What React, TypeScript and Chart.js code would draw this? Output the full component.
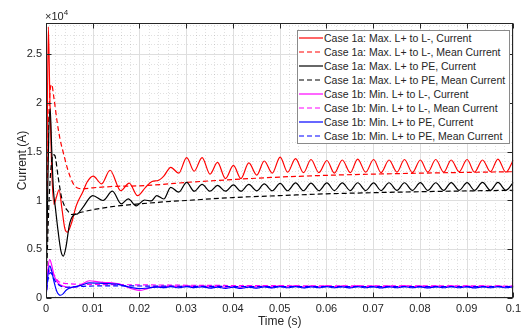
import React, { useEffect, useRef } from "react";
import { Chart, registerables } from "chart.js";

Chart.register(...registerables);

// ---------- data (time in s, current in A) ----------
const X_MIN = 0;
const X_MAX = 0.1;
const Y_MIN = 0;
const Y_MAX = 28200;
const X_TICKS = [0, 0.01, 0.02, 0.03, 0.04, 0.05, 0.06, 0.07, 0.08, 0.09, 0.1];
const X_TICK_LABELS = ["0", "0.01", "0.02", "0.03", "0.04", "0.05", "0.06", "0.07", "0.08", "0.09", "0.1"];
const Y_TICKS = [0, 5000, 10000, 15000, 20000, 25000];
const Y_TICK_LABELS = ["0", "0.5", "1", "1.5", "2", "2.5"];
const X_MINOR_STEP = 0.002;
const Y_MINOR_STEP = 1000;

// steady-state 300 Hz ripple extremes (shared time base)
const RIPPLE_T = [
  0.0267, 0.0284, 0.0301, 0.0317, 0.0334, 0.0351, 0.0367, 0.0384, 0.0401, 0.0417,
  0.0434, 0.0451, 0.0467, 0.0484, 0.0501, 0.0517, 0.0534, 0.0551, 0.0567, 0.0584,
  0.0601, 0.0617, 0.0634, 0.0651, 0.0667, 0.0684, 0.0701, 0.0717, 0.0734, 0.0751,
  0.0767, 0.0784, 0.0801, 0.0817, 0.0834, 0.0851, 0.0867, 0.0884, 0.0901, 0.0917,
  0.0934, 0.0951, 0.0967, 0.0984, 0.1,
];

// Case 1a: Max. L+ to L-, Current
const RED_T = [0, 0.0002, 0.0005, 0.0008, 0.0012, 0.0017, 0.0022, 0.0028, 0.0034, 0.004, 0.0046, 0.0054, 0.0065, 0.0079, 0.0088, 0.0101, 0.0119, 0.0137, 0.016, 0.0178, 0.0196, 0.0213, 0.0227, 0.024, 0.0252];
const RED_I = [0, 13000, 27800, 21000, 13500, 9600, 10300, 11100, 9200, 7200, 6750, 7600, 9500, 10900, 11900, 12500, 11700, 13100, 11000, 11770, 10500, 11350, 11950, 12050, 12500];
const RED_RIPPLE = [
  13400, 12800, 14400, 13000, 14400, 12700, 13900, 12250, 13600, 12250,
  13850, 12600, 14050, 12800, 14450, 12900, 14300, 12850, 14200, 12850,
  14100, 12800, 14150, 12850, 14250, 12900, 14200, 12850, 14150, 12900,
  14200, 12850, 14150, 12900, 14200, 12900, 14150, 12950, 14200, 12900,
  14150, 12950, 14250, 12900, 14150,
];

// Case 1a: Max. L+ to L-, Mean Current
const RED_MEAN_T = [0, 0.0002, 0.0005, 0.0008, 0.0012, 0.0017, 0.0024, 0.003, 0.0036, 0.0047, 0.0058, 0.0069, 0.008, 0.01, 0.015, 0.02, 0.025, 0.03, 0.04, 0.05, 0.06, 0.07, 0.08, 0.09, 0.1];
const RED_MEAN_I = [0, 9000, 17000, 20800, 21900, 20500, 18000, 16300, 15100, 13100, 11750, 11250, 11200, 11300, 11450, 11500, 11650, 11850, 12150, 12400, 12580, 12700, 12800, 12880, 12950];

// Case 1a: Max. L+ to PE, Current
const BLACK_T = [0, 0.0003, 0.0006, 0.0009, 0.0012, 0.0016, 0.002, 0.0026, 0.0032, 0.0037, 0.0043, 0.005, 0.0058, 0.0068, 0.0079, 0.01, 0.0122, 0.0142, 0.0161, 0.0176, 0.0193, 0.0211, 0.0225, 0.0237, 0.0252];
const BLACK_I = [0, 9000, 17000, 19400, 15500, 11000, 9300, 6800, 4800, 4300, 5300, 7500, 8450, 8650, 9300, 10500, 10000, 10950, 9650, 10170, 9450, 10050, 9950, 10500, 10150];
const BLACK_RIPPLE = [
  11350, 10850, 11850, 10950, 11650, 10950, 11550, 10950, 11600, 10950,
  11650, 10980, 11700, 11000, 11750, 11000, 11800, 11000, 11780, 11000,
  11800, 11020, 11800, 11020, 11820, 11020, 11800, 11020, 11820, 11030,
  11820, 11030, 11830, 11030, 11820, 11040, 11840, 11040, 11830, 11040,
  11850, 11040, 11850, 11050, 11850,
];

// Case 1a: Max. L+ to PE, Mean Current
const BLACK_MEAN_T = [0, 0.0003, 0.0007, 0.0011, 0.0015, 0.0019, 0.0026, 0.0033, 0.0039, 0.0047, 0.0054, 0.0062, 0.007, 0.01, 0.015, 0.02, 0.025, 0.03, 0.04, 0.05, 0.06, 0.07, 0.08, 0.09, 0.1];
const BLACK_MEAN_I = [0, 5000, 10500, 13500, 14700, 14600, 12400, 10400, 9500, 8900, 8560, 8600, 8720, 9050, 9420, 9650, 9850, 10000, 10300, 10500, 10680, 10800, 10900, 10980, 11050];

// Case 1b: Min. L+ to L-, Current
const MAGENTA_T = [0, 0.0002, 0.0005, 0.0008, 0.0012, 0.0017, 0.0023, 0.003, 0.0038, 0.0048, 0.006, 0.0075, 0.0093, 0.0112, 0.0128, 0.0142, 0.0157, 0.0172, 0.0187, 0.02, 0.0213, 0.0227, 0.024, 0.0252];
const MAGENTA_I = [0, 1500, 3300, 3950, 3400, 2400, 1700, 1350, 1200, 1100, 1100, 1350, 1770, 1650, 1580, 1550, 1450, 1150, 900, 780, 900, 1120, 1200, 1150];
const MAGENTA_RIPPLE = [
  1250, 1150, 1270, 1160, 1250, 1130, 1240, 1120, 1230, 1110,
  1240, 1130, 1250, 1140, 1260, 1150, 1260, 1140, 1250, 1150,
  1260, 1150, 1250, 1140, 1260, 1150, 1250, 1140, 1250, 1150,
  1260, 1150, 1250, 1140, 1250, 1150, 1260, 1150, 1250, 1140,
  1250, 1150, 1260, 1150, 1250,
];

// Case 1b: Min. L+ to L-, Mean Current
const MEAN_1B_T = [0, 0.0003, 0.0007, 0.001, 0.0014, 0.002, 0.0027, 0.0035, 0.0045, 0.006, 0.008, 0.01, 0.015, 0.02, 0.03, 0.04, 0.06, 0.08, 0.1];
const MAGENTA_MEAN_I = [0, 1800, 2700, 2900, 2600, 2100, 1700, 1550, 1480, 1430, 1400, 1390, 1370, 1350, 1310, 1280, 1250, 1240, 1230];

// Case 1b: Min. L+ to PE, Current
const BLUE_T = [0, 0.0002, 0.0005, 0.0008, 0.0012, 0.0017, 0.0023, 0.0031, 0.0037, 0.0043, 0.005, 0.006, 0.0075, 0.0093, 0.0112, 0.0128, 0.0142, 0.0157, 0.0172, 0.0187, 0.02, 0.0213, 0.0227, 0.024, 0.0252];
const BLUE_I = [0, 1200, 2700, 3300, 2800, 1700, 700, 280, 450, 800, 1000, 1150, 1300, 1560, 1520, 1480, 1450, 1380, 1200, 1030, 970, 1000, 1080, 1120, 1060];
const BLUE_RIPPLE = [
  1160, 1050, 1170, 1060, 1150, 1020, 1120, 990, 1110, 980,
  1120, 1010, 1140, 1040, 1160, 1050, 1160, 1040, 1150, 1050,
  1160, 1050, 1150, 1040, 1160, 1050, 1150, 1040, 1150, 1050,
  1160, 1050, 1150, 1040, 1150, 1050, 1160, 1050, 1150, 1040,
  1150, 1050, 1160, 1050, 1150,
];

// Case 1b: Min. L+ to PE, Mean Current
const BLUE_MEAN_I = [0, 1500, 2400, 2600, 2300, 1700, 1350, 1150, 1100, 1150, 1200, 1230, 1250, 1230, 1200, 1180, 1170, 1160, 1160];

const LABELS = [
  "Case 1a: Max. L+ to L-, Current",
  "Case 1a: Max. L+ to L-, Mean Current",
  "Case 1a: Max. L+ to PE, Current",
  "Case 1a: Max. L+ to PE, Mean Current",
  "Case 1b: Min. L+ to L-, Current",
  "Case 1b: Min. L+ to L-, Mean Current",
  "Case 1b: Min. L+ to PE, Current",
  "Case 1b: Min. L+ to PE, Mean Current",
];
const COLORS = ["#ff0000", "#ff0000", "#000000", "#000000", "#ff00ff", "#ff00ff", "#0000ff", "#0000ff"];
const DASHED = [false, true, false, true, false, true, false, true];

const zip = (t: number[], v: number[]) => {
  const n = Math.min(t.length, v.length);
  const out: { x: number; y: number }[] = [];
  for (let i = 0; i < n; i++) out.push({ x: t[i], y: v[i] });
  return out;
};

const SERIES_DATA = [
  zip(RED_T.concat(RIPPLE_T), RED_I.concat(RED_RIPPLE)),
  zip(RED_MEAN_T, RED_MEAN_I),
  zip(BLACK_T.concat(RIPPLE_T), BLACK_I.concat(BLACK_RIPPLE)),
  zip(BLACK_MEAN_T, BLACK_MEAN_I),
  zip(MAGENTA_T.concat(RIPPLE_T), MAGENTA_I.concat(MAGENTA_RIPPLE)),
  zip(MEAN_1B_T, MAGENTA_MEAN_I),
  zip(BLUE_T.concat(RIPPLE_T), BLUE_I.concat(BLUE_RIPPLE)),
  zip(MEAN_1B_T, BLUE_MEAN_I),
];

const FONT = '"Liberation Sans", Arial, Helvetica, sans-serif';
const AXIS_COLOR = "#262626";
const DASH = [5, 3];

const matlabAxes = {
  id: "matlabAxes",
  beforeDatasetsDraw(chart: any) {
    const { ctx, chartArea, scales } = chart;
    const { left, right, top, bottom } = chartArea;
    const xs = scales.x;
    const ys = scales.y;
    ctx.save();
    ctx.lineWidth = 1;
    // minor grid (dotted)
    ctx.strokeStyle = "rgba(38,38,38,0.14)";
    ctx.setLineDash([1, 2]);
    ctx.beginPath();
    for (let k = 1; k * X_MINOR_STEP < X_MAX - 1e-9; k++) {
      if (k % 5 === 0) continue;
      const px = Math.round(xs.getPixelForValue(k * X_MINOR_STEP)) + 0.5;
      ctx.moveTo(px, top);
      ctx.lineTo(px, bottom);
    }
    for (let k = 1; k * Y_MINOR_STEP < Y_MAX; k++) {
      if (k % 5 === 0) continue;
      const py = Math.round(ys.getPixelForValue(k * Y_MINOR_STEP)) + 0.5;
      ctx.moveTo(left, py);
      ctx.lineTo(right, py);
    }
    ctx.stroke();
    // major grid
    ctx.setLineDash([]);
    ctx.strokeStyle = "#dedede";
    ctx.beginPath();
    X_TICKS.forEach((v) => {
      const px = Math.round(xs.getPixelForValue(v)) + 0.5;
      ctx.moveTo(px, top);
      ctx.lineTo(px, bottom);
    });
    Y_TICKS.forEach((v) => {
      const py = Math.round(ys.getPixelForValue(v)) + 0.5;
      ctx.moveTo(left, py);
      ctx.lineTo(right, py);
    });
    ctx.stroke();
    ctx.restore();
  },
  afterDatasetsDraw(chart: any) {
    const { ctx, chartArea, scales } = chart;
    const { left, right, top, bottom } = chartArea;
    const xs = scales.x;
    const ys = scales.y;
    const L = Math.round(left) + 0.5;
    const R = Math.round(right) - 0.5;
    const T = Math.round(top) + 0.5;
    const B = Math.round(bottom) - 0.5;
    ctx.save();
    ctx.setLineDash([]);
    ctx.lineWidth = 1;
    ctx.strokeStyle = AXIS_COLOR;
    ctx.strokeRect(L, T, R - L, B - T);
    const tl = 5;
    ctx.beginPath();
    X_TICKS.forEach((v) => {
      const px = Math.round(xs.getPixelForValue(v)) + 0.5;
      ctx.moveTo(px, B);
      ctx.lineTo(px, B - tl);
      ctx.moveTo(px, T);
      ctx.lineTo(px, T + tl);
    });
    Y_TICKS.forEach((v) => {
      const py = Math.round(ys.getPixelForValue(v)) + 0.5;
      ctx.moveTo(L, py);
      ctx.lineTo(L + tl, py);
      ctx.moveTo(R, py);
      ctx.lineTo(R - tl, py);
    });
    ctx.stroke();
    ctx.restore();
  },
};

export default function App() {
  const canvasRef = useRef<HTMLCanvasElement | null>(null);

  useEffect(() => {
    const canvas = canvasRef.current;
    if (!canvas) return;
    const datasets = SERIES_DATA.map((data, i) => ({
      label: LABELS[i],
      data,
      borderColor: COLORS[i],
      backgroundColor: COLORS[i],
      borderWidth: 1.2,
      borderDash: DASHED[i] ? DASH : [],
      pointRadius: 0,
      fill: false,
      cubicInterpolationMode: "monotone" as const,
      order: SERIES_DATA.length - 1 - i,
    }));
    const chart = new Chart(canvas, {
      type: "line",
      data: { datasets },
      plugins: [matlabAxes],
      options: {
        responsive: false,
        animation: false,
        devicePixelRatio: 1,
        parsing: false,
        normalized: true,
        layout: { padding: { left: 0, right: 10, top: 23, bottom: 0 } },
        plugins: { legend: { display: false }, tooltip: { enabled: false } },
        scales: {
          x: {
            type: "linear",
            min: X_MIN,
            max: X_MAX,
            afterBuildTicks: (s: any) => {
              s.ticks = X_TICKS.map((v) => ({ value: v }));
            },
            afterFit: (s: any) => {
              s.height = 31;
            },
            grid: { display: false, drawTicks: false },
            border: { display: false },
            ticks: {
              padding: 4,
              color: AXIS_COLOR,
              maxRotation: 0,
              autoSkip: false,
              font: { family: FONT, size: 11 },
              callback: (_v: any, i: number) => X_TICK_LABELS[i],
            },
            title: {
              display: true,
              text: "Time (s)",
              color: AXIS_COLOR,
              font: { family: FONT, size: 12 },
              padding: { top: 0, bottom: 0 },
            },
          },
          y: {
            type: "linear",
            min: Y_MIN,
            max: Y_MAX,
            afterBuildTicks: (s: any) => {
              s.ticks = Y_TICKS.map((v) => ({ value: v }));
            },
            afterFit: (s: any) => {
              s.width = 46;
            },
            grid: { display: false, drawTicks: false },
            border: { display: false },
            ticks: {
              padding: 4,
              color: AXIS_COLOR,
              autoSkip: false,
              font: { family: FONT, size: 11 },
              callback: (_v: any, i: number) => Y_TICK_LABELS[i],
            },
            title: {
              display: true,
              text: "Current (A)",
              color: AXIS_COLOR,
              font: { family: FONT, size: 12 },
              padding: { top: 15, bottom: 0 },
            },
          },
        },
      },
    } as any);
    return () => chart.destroy();
  }, []);

  return (
    <div style={{ position: "fixed", left: 0, top: 0, width: 525, height: 329, background: "#fff" }}>
      <canvas ref={canvasRef} width={525} height={329} style={{ display: "block", width: 525, height: 329 }} />
      <div
        style={{
          position: "absolute",
          left: 45,
          top: 10,
          font: `11px ${FONT}`,
          lineHeight: "13px",
          color: AXIS_COLOR,
          whiteSpace: "nowrap",
        }}
      >
        ×10<span style={{ fontSize: 8, position: "relative", top: -5 }}>4</span>
      </div>
      <div
        style={{
          position: "absolute",
          left: 297,
          top: 30,
          width: 211,
          height: 112,
          border: "1px solid #8a8a8a",
          background: "#fff",
          font: `10.5px ${FONT}`,
          color: AXIS_COLOR,
          boxSizing: "content-box",
        }}
      >
        {LABELS.map((label, i) => (
          <div key={i} style={{ height: 14, display: "flex", alignItems: "center", whiteSpace: "nowrap" }}>
            <svg width={26} height={14} style={{ flex: "none" }}>
              <line
                x1={1}
                x2={25}
                y1={7}
                y2={7}
                stroke={COLORS[i]}
                strokeWidth={1.2}
                strokeDasharray={DASHED[i] ? DASH.join(" ") : undefined}
              />
            </svg>
            <span>{label}</span>
          </div>
        ))}
      </div>
    </div>
  );
}
